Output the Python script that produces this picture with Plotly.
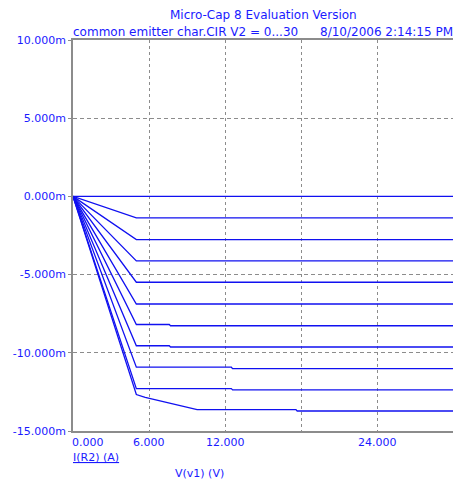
import plotly.graph_objects as go

# Data (V(v1) in V, I(R2) in mA)
curve_x = [
    [0, 5, 30],
    [0, 5, 30],
    [0, 5, 30],
    [0, 5, 30],
    [0, 5, 30],
    [0, 5, 30],
    [0, 5, 7.6, 7.7, 30],
    [0, 5, 7.6, 7.7, 30],
    [0, 5, 12.5, 12.6, 30],
    [0, 5, 12.5, 12.6, 30],
    [0, 5, 5.7, 9.8, 17.6, 17.7, 30],
]
curve_y = [
    [0, 0, 0],
    [0, -1.37, -1.37],
    [0, -2.76, -2.76],
    [0, -4.12, -4.12],
    [0, -5.49, -5.49],
    [0, -6.88, -6.88],
    [0, -8.19, -8.19, -8.27, -8.27],
    [0, -9.55, -9.55, -9.63, -9.63],
    [0, -10.92, -10.92, -11.01, -11.01],
    [0, -12.29, -12.29, -12.37, -12.37],
    [0, -12.67, -12.85, -13.63, -13.63, -13.72, -13.72],
]
y_ticks = [10, 5, 0, -5, -10, -15]
y_ticktext = ["10.000m", "5.000m", "0.000m", "-5.000m", "-10.000m", "-15.000m"]
x_grid = [0, 6, 12, 18, 24]
x_labels = [(0, "0.000"), (6, "6.000"), (12, "12.000"), (24, "24.000")]

BLUE = "#1010F0"
TXT = "#1a1aff"
GREY = "#8c8c8c"
FONT = "DejaVu Sans, Verdana, sans-serif"
FS = 11

fig = go.Figure()
for xs, ys in zip(curve_x, curve_y):
    fig.add_trace(go.Scatter(x=xs, y=ys, mode="lines",
                             line=dict(color=BLUE, width=1.3),
                             showlegend=False, hoverinfo="skip"))

fig.update_layout(
    width=453, height=483,
    margin=dict(l=73, r=0, t=40, b=52),
    plot_bgcolor="white", paper_bgcolor="white",
    font=dict(family=FONT, size=FS, color=TXT),
    xaxis=dict(range=[0, 30], tickvals=x_grid, showticklabels=False,
               showgrid=True, gridcolor=GREY, griddash="3px,3px", gridwidth=1,
               showline=True, linecolor=GREY, linewidth=1.5, mirror=True,
               zeroline=False, ticks=""),
    yaxis=dict(range=[-15, 10], tickvals=y_ticks, ticktext=y_ticktext,
               showgrid=True, gridcolor=GREY, griddash="4px,3px", gridwidth=1,
               showline=True, linecolor=GREY, linewidth=1.5,
               zeroline=False, ticks="outside", ticklen=3, tickcolor=GREY,
               tickfont=dict(size=FS, color=TXT, family=FONT)),
)

ann = []
for xv, t in x_labels:
    ann.append(dict(x=xv, y=0, xref="x", yref="paper", yshift=-11,
                    xshift=-3 if xv == 0 else 0, text=t,
                    showarrow=False, xanchor="left" if xv == 0 else "center",
                    yanchor="middle", font=dict(size=FS, color=TXT, family=FONT)))
ann += [
    dict(x=263, y=15, text="Micro-Cap 8 Evaluation Version", showarrow=False, fs=12),
    dict(x=71, y=32, text="common emitter char.CIR V2 = 0...30", showarrow=False,
         xanchor="left", fs=12),
    dict(x=455, y=32, text="8/10/2006 2:14:15 PM", showarrow=False, xanchor="right", fs=12),
    dict(x=71, y=457, text="<u>I(R2) (A)</u>", showarrow=False, xanchor="left"),
    dict(x=199, y=473, text="V(v1) (V)", showarrow=False, xanchor="center"),
]
final = []
for a in ann:
    if a.get("xref") == "x":
        final.append(a)
        continue
    px, py = a["x"], a["y"]
    a = dict(a)
    fs = a.pop("fs", FS)
    a["xref"] = "paper"; a["yref"] = "paper"
    a["x"] = (px - 73) / (453 - 73)
    a["y"] = (431 - py) / (431 - 40)
    a["yanchor"] = "middle"
    a.setdefault("xanchor", "center")
    a["font"] = dict(size=fs, color=TXT, family=FONT)
    final.append(a)
fig.update_layout(annotations=final)

fig.write_html("out.html")
